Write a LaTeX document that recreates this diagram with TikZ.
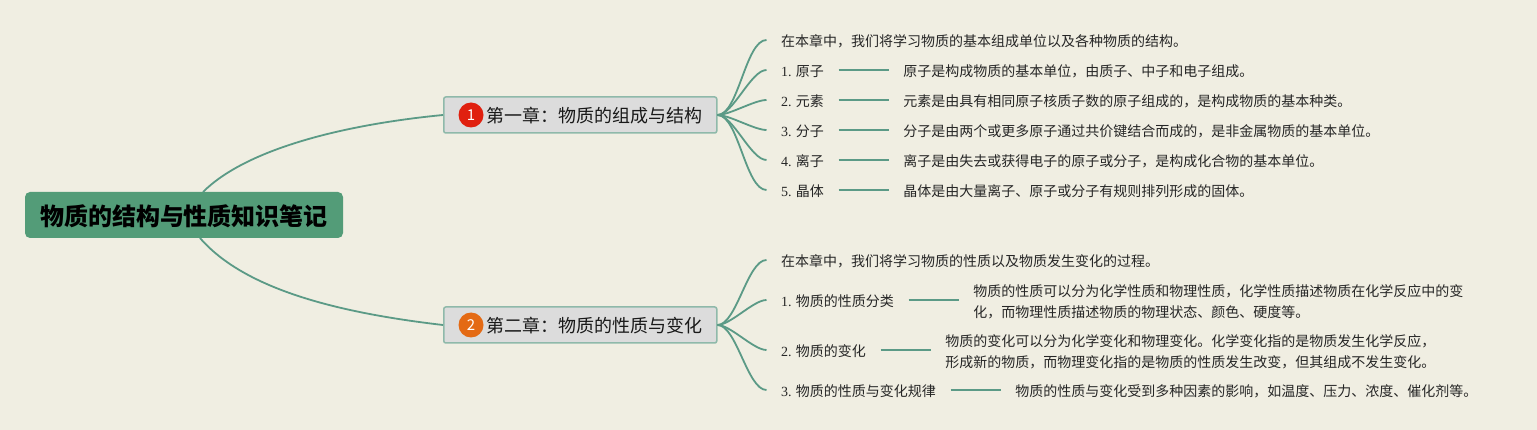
\documentclass[tikz,border=0pt]{standalone}
\usepackage{fontspec}
\setmainfont{Noto Sans CJK SC}
\newfontfamily\numfont{Liberation Serif}
\usetikzlibrary{positioning}
\definecolor{paper}{HTML}{F0EEE2}
\definecolor{rootgreen}{HTML}{539C78}
\definecolor{linkgreen}{HTML}{5B9A86}
\definecolor{chapgray}{HTML}{DCDCDC}
\definecolor{chapedge}{HTML}{8FB9AA}
\newcommand{\firstline}{\rule{0pt}{14.6pt}}
\tikzset{
  rootbox/.style={fill=rootgreen, rounded corners=5pt, minimum width=318pt, minimum height=46pt, inner sep=0pt, text height=24pt, text depth=2.8pt, font=\fontsize{24}{28}\bfseries, text=black},
  chapbox/.style={draw=chapedge, fill=chapgray, line width=1.5pt, rounded corners=2pt, anchor=west, minimum width=273pt, minimum height=36pt, inner xsep=0pt, inner ysep=0pt, text height=18pt, text depth=2.4pt, font=\fontsize{18}{22}\selectfont, text=black!90},
  badge/.style={circle, minimum size=25pt, inner sep=0pt, text=white, font=\fontsize{15}{15}\selectfont},
  itemtext/.style={anchor=west, inner xsep=14.5pt, inner ysep=0pt, align=left, text height=14.6pt, text depth=2pt, font=\fontsize{14}{21}\selectfont, text=black!85},
  twolines/.style={itemtext, text height=, text depth=},
  branch/.style={draw=linkgreen, line width=1.8pt},
  twig/.style={branch, out=0, in=180, looseness=0.6},
}
\begin{document}
\begin{tikzpicture}[x=1pt, y=-1pt]
    % Background
    \fill[paper] (0, 0) rectangle (1537, 430);
    \useasboundingbox (0, 0) rectangle (1537, 430);

    % Root
    \node[rootbox] (root) at (184, 215) {物质的结构与性质知识笔记};
    \coordinate (rootup) at (203, 192);
    \coordinate (rootdown) at (200, 238);

    % Chapters
    \node[chapbox] (chapone) at (443, 115) {\hspace{28pt}第一章：物质的组成与结构};
    \node[chapbox] (chaptwo) at (443, 325) {\hspace{28pt}第二章：物质的性质与变化};
    \node[badge, fill={rgb,255:red,224;green,32;blue,15}] (badgeone) at (471, 115) {1};
    \node[badge, fill={rgb,255:red,228;green,106;blue,20}] (badgetwo) at (471, 325) {2};

    % Root links
    \draw[branch] (rootup) .. controls (245, 150) and (340, 125) .. (chapone.west);
    \draw[branch] (rootdown) .. controls (245, 290) and (340, 313) .. (chaptwo.west);

    % First chapter
    \node[itemtext] (introone) at (766.5, 40) {在本章中，我们将学习物质的基本组成单位以及各种物质的结构。};
    \node[itemtext] (atom) at (766.5, 70) {{\numfont 1.} 原子};
    \node[itemtext] (element) at (766.5, 100) {{\numfont 2.} 元素};
    \node[itemtext] (molecule) at (766.5, 130) {{\numfont 3.} 分子};
    \node[itemtext] (ion) at (766.5, 160) {{\numfont 4.} 离子};
    \node[itemtext] (crystal) at (766.5, 190) {{\numfont 5.} 晶体};
    \node[itemtext, right=50pt of atom] (atomtext) {原子是构成物质的基本单位，由质子、中子和电子组成。};
    \node[itemtext, right=50pt of element] (elementtext) {元素是由具有相同原子核质子数的原子组成的，是构成物质的基本种类。};
    \node[itemtext, right=50pt of molecule] (moleculetext) {分子是由两个或更多原子通过共价键结合而成的，是非金属物质的基本单位。};
    \node[itemtext, right=50pt of ion] (iontext) {离子是由失去或获得电子的原子或分子，是构成化合物的基本单位。};
    \node[itemtext, right=50pt of crystal] (crystaltext) {晶体是由大量离子、原子或分子有规则排列形成的固体。};

    \draw[twig] (chapone.east) to (introone.west);
    \draw[twig] (chapone.east) to (atom.west);
    \draw[twig] (chapone.east) to (element.west);
    \draw[twig] (chapone.east) to (molecule.west);
    \draw[twig] (chapone.east) to (ion.west);
    \draw[twig] (chapone.east) to (crystal.west);
    \draw[branch] (atom) -- (atomtext);
    \draw[branch] (element) -- (elementtext);
    \draw[branch] (molecule) -- (moleculetext);
    \draw[branch] (ion) -- (iontext);
    \draw[branch] (crystal) -- (crystaltext);

    % Second chapter
    \node[itemtext] (introtwo) at (766.5, 260) {在本章中，我们将学习物质的性质以及物质发生变化的过程。};
    \node[itemtext] (kinds) at (766.5, 300) {{\numfont 1.} 物质的性质分类};
    \node[itemtext] (change) at (766.5, 350) {{\numfont 2.} 物质的变化};
    \node[itemtext] (rules) at (766.5, 390) {{\numfont 3.} 物质的性质与变化规律};
    \node[twolines, right=50pt of kinds] (kindstext) {\firstline 物质的性质可以分为化学性质和物理性质，化学性质描述物质在化学反应中的变\\化，而物理性质描述物质的物理状态、颜色、硬度等。};
    \node[twolines, right=50pt of change] (changetext) {\firstline 物质的变化可以分为化学变化和物理变化。化学变化指的是物质发生化学反应，\\形成新的物质，而物理变化指的是物质的性质发生改变，但其组成不发生变化。};
    \node[itemtext, right=50pt of rules] (rulestext) {物质的性质与变化受到多种因素的影响，如温度、压力、浓度、催化剂等。};

    \draw[twig] (chaptwo.east) to (introtwo.west);
    \draw[twig] (chaptwo.east) to (kinds.west);
    \draw[twig] (chaptwo.east) to (change.west);
    \draw[twig] (chaptwo.east) to (rules.west);
    \draw[branch] (kinds) -- (kindstext);
    \draw[branch] (change) -- (changetext);
    \draw[branch] (rules) -- (rulestext);
\end{tikzpicture}
\end{document}
